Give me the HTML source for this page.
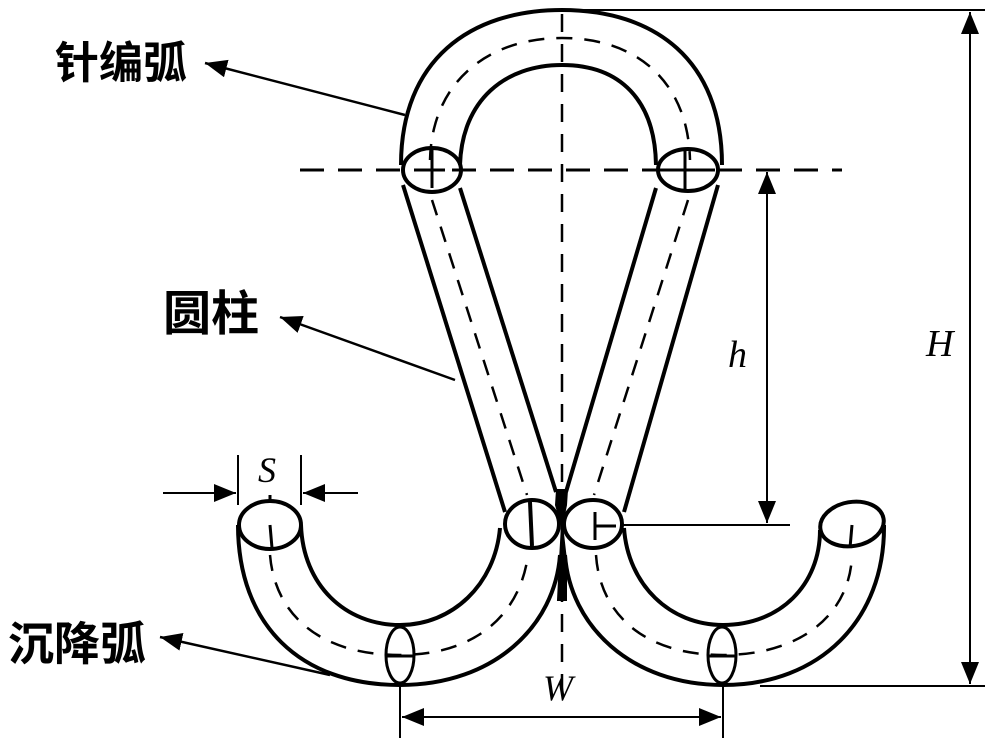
<!DOCTYPE html>
<html><head><meta charset="utf-8"><style>
html,body{margin:0;padding:0;background:#fff;}
svg{display:block;}
.cj{font-family:"Liberation Sans","Noto Sans CJK SC",sans-serif;font-weight:bold;}
.it{font-family:"Liberation Serif",serif;font-style:italic;}
</style></head><body>
<svg width="1000" height="741" viewBox="0 0 1000 741" xmlns="http://www.w3.org/2000/svg">
<defs>
<marker id="a" markerWidth="22" markerHeight="18" refX="22" refY="9" orient="auto" markerUnits="userSpaceOnUse" viewBox="0 0 22 18"><path d="M0,0 L22,9 L0,18 z" fill="#000"/></marker>
</defs>
<g fill="none" stroke="#000">
<line x1="300" y1="170" x2="842" y2="170" stroke-width="3" stroke-dasharray="24,14"/>
<line x1="562" y1="14" x2="562" y2="690" stroke-width="2.5" stroke-dasharray="18,12"/>
<path d="M401,165 C401,60 470,10 562,10 C655,10 722,60 722,165" stroke-width="4"/>
<path d="M460,165 C462,100 505,65 562,65 C620,65 655,100 656,165" stroke-width="4"/>
<path d="M430,160 C432,80 490,38 562,38 C635,38 688,80 690,160" stroke-width="2.5" stroke-dasharray="16,12"/>
<line x1="403" y1="185" x2="505" y2="512" stroke-width="4"/>
<line x1="460" y1="188" x2="556" y2="492" stroke-width="4"/>
<line x1="656" y1="188" x2="566" y2="492" stroke-width="4"/>
<line x1="718" y1="185" x2="624" y2="512" stroke-width="4"/>
<line x1="432" y1="200" x2="527" y2="495" stroke-width="2.5" stroke-dasharray="16,12"/>
<line x1="688" y1="200" x2="594" y2="495" stroke-width="2.5" stroke-dasharray="16,12"/>
<ellipse cx="432" cy="170" rx="29" ry="22" stroke-width="4"/>
<ellipse cx="688" cy="170" rx="30" ry="21" stroke-width="4"/>
<path d="M432,150 L432,188 M420,170 L445,170" stroke-width="3"/>
<path d="M685,150 L685,190 M660,170 L715,170" stroke-width="3"/>
<ellipse cx="532" cy="524" rx="27" ry="24" stroke-width="4"/>
<ellipse cx="593" cy="524" rx="29" ry="24" stroke-width="4"/>
<path d="M530,502 L532,546" stroke-width="4"/>
<path d="M595,512 L595,540 M595,526 L616,526" stroke-width="3"/>
<path d="M557,490 L567,490 L566,505 L562,525 L566,560 L566,600 L558,600 L560,560 L562,525 L556,505 Z" fill="#000" stroke-width="2"/>
<path d="M238,525 C238,625 300,685 400,685 C495,685 555,625 560,555" stroke-width="4"/>
<path d="M301,525 C303,585 345,625 400,625 C452,625 495,585 500,528" stroke-width="4"/>
<path d="M270,555 C275,615 320,655 400,655 C475,655 520,615 528,555" stroke-width="2.5" stroke-dasharray="16,12"/>
<ellipse cx="270" cy="525" rx="31" ry="24" stroke-width="4"/>
<path d="M270,525 L272,548 M270,503 L270,495" stroke-width="3"/>
<path d="M565,555 C570,625 630,685 723,685 C820,685 885,620 884,525" stroke-width="4"/>
<path d="M624,528 C628,585 670,625 723,625 C780,625 820,585 820,530" stroke-width="4"/>
<path d="M596,555 C600,615 645,655 723,655 C800,655 850,615 852,555" stroke-width="2.5" stroke-dasharray="16,12"/>
<ellipse cx="852" cy="524" rx="32" ry="22" transform="rotate(-10 852 524)" stroke-width="4"/>
<path d="M852,525 L850,548" stroke-width="3"/>
<ellipse cx="400" cy="655" rx="14" ry="28" stroke-width="3"/>
<line x1="386" y1="656" x2="414" y2="656" stroke-width="3"/>
<ellipse cx="722" cy="655" rx="14" ry="28" stroke-width="3"/>
<line x1="708" y1="656" x2="736" y2="656" stroke-width="3"/>
<line x1="575" y1="10" x2="985" y2="10" stroke-width="2"/>
<line x1="760" y1="686" x2="985" y2="686" stroke-width="2"/>
<line x1="970" y1="40" x2="970" y2="660" stroke-width="2"/>
<line x1="970" y1="50" x2="970" y2="12" stroke-width="2" marker-end="url(#a)"/>
<line x1="970" y1="640" x2="970" y2="684" stroke-width="2" marker-end="url(#a)"/>
<line x1="620" y1="525" x2="790" y2="525" stroke-width="2"/>
<line x1="767" y1="200" x2="767" y2="500" stroke-width="2"/>
<line x1="767" y1="210" x2="767" y2="172" stroke-width="2" marker-end="url(#a)"/>
<line x1="767" y1="480" x2="767" y2="523" stroke-width="2" marker-end="url(#a)"/>
<line x1="238" y1="455" x2="238" y2="505" stroke-width="2"/>
<line x1="301" y1="455" x2="301" y2="505" stroke-width="2"/>
<line x1="163" y1="493" x2="236" y2="493" stroke-width="2" marker-end="url(#a)"/>
<line x1="358" y1="493" x2="303" y2="493" stroke-width="2" marker-end="url(#a)"/>
<line x1="400" y1="686" x2="400" y2="738" stroke-width="2"/>
<line x1="723" y1="686" x2="723" y2="738" stroke-width="2"/>
<line x1="440" y1="717" x2="685" y2="717" stroke-width="2"/>
<line x1="450" y1="717" x2="402" y2="717" stroke-width="2" marker-end="url(#a)"/>
<line x1="680" y1="717" x2="721" y2="717" stroke-width="2" marker-end="url(#a)"/>
<line x1="405" y1="115" x2="205" y2="63" stroke-width="2.5" marker-end="url(#a)"/>
<line x1="455" y1="380" x2="280" y2="317" stroke-width="2.5" marker-end="url(#a)"/>
<line x1="330" y1="675" x2="160" y2="637" stroke-width="2.5" marker-end="url(#a)"/>
</g>
<text x="55" y="78" class="cj" font-size="44">针编弧</text>
<text x="163" y="330" class="cj" font-size="48">圆柱</text>
<text x="8" y="660" class="cj" font-size="46">沉降弧</text>
<text x="926" y="356" class="it" font-size="38">H</text>
<text x="728" y="367" class="it" font-size="38">h</text>
<text x="258" y="482" class="it" font-size="36">S</text>
<text x="543" y="700" class="it" font-size="36">W</text>
</svg>
</body></html>
